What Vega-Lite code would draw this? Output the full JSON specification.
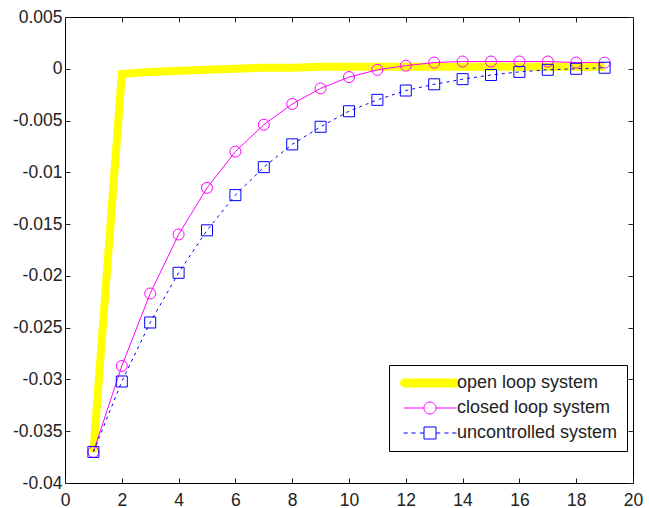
{
  "$schema": "https://vega.github.io/schema/vega-lite/v6.json",
  "width": 568,
  "height": 466,
  "autosize": {"type": "none"},
  "padding": {"left": 65, "top": 17, "right": 16, "bottom": 25},
  "background": "white",
  "config": {
    "view": {"stroke": "black", "strokeWidth": 1},
    "axis": {
      "grid": false,
      "domain": false,
      "tickColor": "#222",
      "tickSize": -5,
      "labelFont": "Liberation Sans",
      "labelFontSize": 17.5,
      "labelColor": "#222",
      "title": null
    },
    "legend": {
      "orient": "none", "legendX": 324, "legendY": 348, "title": null, "strokeColor": "black", "fillColor": "white",
      "padding": 9, "symbolOffset": 23, "labelOffset": 18, "labelFont": "Liberation Sans", "labelFontSize": 18, "labelColor": "#222",
      "rowPadding": 7, "symbolSize": 144, "labelLimit": 400, "symbolStrokeWidth": 1
    }
  },
  "data": {
    "values": [
      {"x": 1, "y": -0.037, "series": "open loop system"},
      {"x": 2, "y": -0.0005, "series": "open loop system"},
      {"x": 3, "y": -0.0003, "series": "open loop system"},
      {"x": 4, "y": -0.0002, "series": "open loop system"},
      {"x": 5, "y": -0.0001, "series": "open loop system"},
      {"x": 6, "y": 0.0, "series": "open loop system"},
      {"x": 7, "y": 0.0001, "series": "open loop system"},
      {"x": 8, "y": 0.0001, "series": "open loop system"},
      {"x": 9, "y": 0.0002, "series": "open loop system"},
      {"x": 10, "y": 0.0002, "series": "open loop system"},
      {"x": 11, "y": 0.0002, "series": "open loop system"},
      {"x": 12, "y": 0.0002, "series": "open loop system"},
      {"x": 13, "y": 0.0002, "series": "open loop system"},
      {"x": 14, "y": 0.0002, "series": "open loop system"},
      {"x": 15, "y": 0.0002, "series": "open loop system"},
      {"x": 16, "y": 0.0002, "series": "open loop system"},
      {"x": 17, "y": 0.0002, "series": "open loop system"},
      {"x": 18, "y": 0.0002, "series": "open loop system"},
      {"x": 19, "y": 0.0002, "series": "open loop system"},
      {"x": 1, "y": -0.037, "series": "closed loop system"},
      {"x": 2, "y": -0.0287, "series": "closed loop system"},
      {"x": 3, "y": -0.0217, "series": "closed loop system"},
      {"x": 4, "y": -0.016, "series": "closed loop system"},
      {"x": 5, "y": -0.0115, "series": "closed loop system"},
      {"x": 6, "y": -0.008, "series": "closed loop system"},
      {"x": 7, "y": -0.0054, "series": "closed loop system"},
      {"x": 8, "y": -0.0034, "series": "closed loop system"},
      {"x": 9, "y": -0.0019, "series": "closed loop system"},
      {"x": 10, "y": -0.0008, "series": "closed loop system"},
      {"x": 11, "y": -0.0001, "series": "closed loop system"},
      {"x": 12, "y": 0.0003, "series": "closed loop system"},
      {"x": 13, "y": 0.0006, "series": "closed loop system"},
      {"x": 14, "y": 0.0007, "series": "closed loop system"},
      {"x": 15, "y": 0.0007, "series": "closed loop system"},
      {"x": 16, "y": 0.0007, "series": "closed loop system"},
      {"x": 17, "y": 0.0007, "series": "closed loop system"},
      {"x": 18, "y": 0.0006, "series": "closed loop system"},
      {"x": 19, "y": 0.0006, "series": "closed loop system"},
      {"x": 1, "y": -0.037, "series": "uncontrolled system"},
      {"x": 2, "y": -0.0302, "series": "uncontrolled system"},
      {"x": 3, "y": -0.0245, "series": "uncontrolled system"},
      {"x": 4, "y": -0.0197, "series": "uncontrolled system"},
      {"x": 5, "y": -0.0156, "series": "uncontrolled system"},
      {"x": 6, "y": -0.0122, "series": "uncontrolled system"},
      {"x": 7, "y": -0.0095, "series": "uncontrolled system"},
      {"x": 8, "y": -0.0073, "series": "uncontrolled system"},
      {"x": 9, "y": -0.0056, "series": "uncontrolled system"},
      {"x": 10, "y": -0.0041, "series": "uncontrolled system"},
      {"x": 11, "y": -0.003, "series": "uncontrolled system"},
      {"x": 12, "y": -0.0021, "series": "uncontrolled system"},
      {"x": 13, "y": -0.0015, "series": "uncontrolled system"},
      {"x": 14, "y": -0.001, "series": "uncontrolled system"},
      {"x": 15, "y": -0.0006, "series": "uncontrolled system"},
      {"x": 16, "y": -0.0003, "series": "uncontrolled system"},
      {"x": 17, "y": -0.0001, "series": "uncontrolled system"},
      {"x": 18, "y": 0.0, "series": "uncontrolled system"},
      {"x": 19, "y": 0.0001, "series": "uncontrolled system"}
    ]
  },
  "layer": [
    {
      "transform": [{"filter": "datum.series === 'open loop system'"}],
      "mark": {"type": "line", "color": "#FFFF00", "strokeWidth": 8},
      "encoding": {
        "x": {"field": "x", "type": "quantitative", "scale": {"domain": [0, 20], "nice": false, "zero": false},
          "axis": {"orient": "bottom", "values": [0, 2, 4, 6, 8, 10, 12, 14, 16, 18, 20], "labelPadding": 13, "labelFlush": false}},
        "y": {"field": "y", "type": "quantitative", "scale": {"domain": [-0.04, 0.005], "nice": false, "zero": false},
          "axis": {"orient": "left", "values": [-0.04, -0.035, -0.03, -0.025, -0.02, -0.015, -0.01, -0.005, 0, 0.005], "labelExpr": "'' + datum.value", "labelPadding": 8, "labelFlush": false}}
      }
    },
    {
      "transform": [{"filter": "datum.series === 'closed loop system'"}],
      "mark": {"type": "line", "color": "#FF00FF", "strokeWidth": 1},
      "encoding": {
        "x": {"field": "x", "type": "quantitative", "axis": null},
        "y": {"field": "y", "type": "quantitative", "axis": null}
      }
    },
    {
      "transform": [{"filter": "datum.series === 'closed loop system'"}],
      "mark": {"type": "point", "shape": "circle", "filled": false, "color": "#FF00FF", "strokeWidth": 1, "size": 121, "opacity": 1},
      "encoding": {
        "x": {"field": "x", "type": "quantitative", "axis": null},
        "y": {"field": "y", "type": "quantitative", "axis": null}
      }
    },
    {
      "transform": [{"filter": "datum.series === 'uncontrolled system'"}],
      "mark": {"type": "line", "color": "#0000FF", "strokeWidth": 1, "strokeDash": [3, 4]},
      "encoding": {
        "x": {"field": "x", "type": "quantitative", "axis": null},
        "y": {"field": "y", "type": "quantitative", "axis": null}
      }
    },
    {
      "transform": [{"filter": "datum.series === 'uncontrolled system'"}],
      "mark": {"type": "point", "shape": "square", "filled": false, "color": "#0000FF", "strokeWidth": 1, "size": 121, "opacity": 1},
      "encoding": {
        "x": {"field": "x", "type": "quantitative", "axis": null},
        "y": {"field": "y", "type": "quantitative", "axis": null}
      }
    },
    {
      "transform": [{"filter": "false"}],
      "mark": {"type": "point", "filled": false, "opacity": 1, "strokeWidth": 1},
      "encoding": {
        "x": {"field": "x", "type": "quantitative",
          "axis": {"orient": "top", "values": [0, 2, 4, 6, 8, 10, 12, 14, 16, 18, 20], "labels": false}},
        "y": {"field": "y", "type": "quantitative",
          "axis": {"orient": "right", "values": [-0.04, -0.035, -0.03, -0.025, -0.02, -0.015, -0.01, -0.005, 0, 0.005], "labels": false}},
        "color": {"field": "series", "type": "nominal",
          "scale": {"domain": ["open loop system", "closed loop system", "uncontrolled system"], "range": ["#FFFF00", "#FF00FF", "#0000FF"]}},
        "fill": {"field": "series", "type": "nominal",
          "scale": {"domain": ["open loop system", "closed loop system", "uncontrolled system"], "range": ["#FFFF00", "transparent", "transparent"]}},
        "shape": {"field": "series", "type": "nominal",
          "scale": {"domain": ["open loop system", "closed loop system", "uncontrolled system"],
            "range": ["M-4.25,-0.67H4.25A0.67,0.67 0 0,1 4.25,0.67H-4.25A0.67,0.67 0 0,1 -4.25,-0.67Z", "M-4.4,0H-1M1,0H4.4M1,0A1,1 0 1,1 -1,0A1,1 0 1,1 1,0", "M-4.4,0H-3.7M-3.1,0H-2.4M-1.7,0H-1M1,0H1.7M2.4,0H3.1M3.7,0H4.4M-1,-1H1V1H-1Z"]}}
      }
    }
  ],
  "resolve": {"axis": {"x": "independent", "y": "independent"}}
}
